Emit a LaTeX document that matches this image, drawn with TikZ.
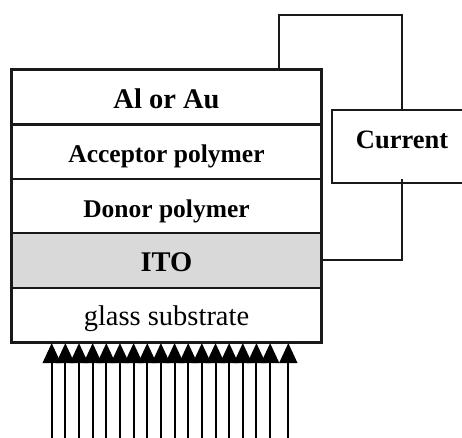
\documentclass[tikz,border=0pt]{standalone}
\usepackage{fontspec}
\setmainfont{Liberation Serif}
\usetikzlibrary{arrows.meta}

\tikzset{
  layer/.style={draw=black!90, line width=2.2pt, minimum width=309pt, minimum height=54.4pt,
    inner sep=0pt, text height=22pt, text depth=0pt, anchor=center},
  wire/.style={draw=black!90, line width=2pt},
  ray/.style={draw=black, line width=2pt, -{Triangle[width=18pt,length=20pt]}},
}

\begin{document}
\begin{tikzpicture}[x=1pt, y=-1pt]
  \useasboundingbox (0,0) rectangle (462,437);

  % device stack, top to bottom
  \node[layer, font=\fontsize{28.5}{30}\selectfont\bfseries] (al) at (166.5,97.2) {Al or Au};
  \node[layer, font=\fontsize{25.5}{28}\selectfont\bfseries] (acc) at (166.5,151.6) {Acceptor polymer};
  \node[layer, font=\fontsize{25.5}{28}\selectfont\bfseries] (don) at (166.5,206.0) {Donor polymer};
  \node[layer, fill=black!15, font=\fontsize{28.5}{30}\selectfont\bfseries] (ito) at (166.5,260.4) {ITO};
  \node[layer, font=\fontsize{28.5}{30}\selectfont] (glass) at (166.5,314.8) {glass substrate};
  \draw[line width=2.6pt, black!90] (al.north west) rectangle (glass.south east);

  % current meter, open past the right edge
  \node[draw=black!90, line width=2.2pt, minimum width=140pt, minimum height=73pt, inner sep=0pt]
    (cur) at (402,146.5) {};
  \node[anchor=base, inner sep=0pt, font=\fontsize{26.5}{28}\selectfont\bfseries]
    (curtext) at (402,148) {Current};

  % external circuit
  \coordinate (w1) at (279,15);
  \draw[wire] (al.north -| w1) -- (w1) -| (cur.north);
  \draw[wire] ([yshift=5pt]cur.south) |- (ito.east);

  % incident light
  \foreach \x [count=\i] in {51.7,65.35,79.0,92.65,106.3,119.95,133.6,147.25,160.9,
                             174.55,188.2,201.85,215.5,229.15,242.8,256.45,270.1,288.3} {
    \coordinate (ray\i) at (\x,440);
    \draw[ray] (ray\i) -- (ray\i |- glass.south);
  }
\end{tikzpicture}
\end{document}
